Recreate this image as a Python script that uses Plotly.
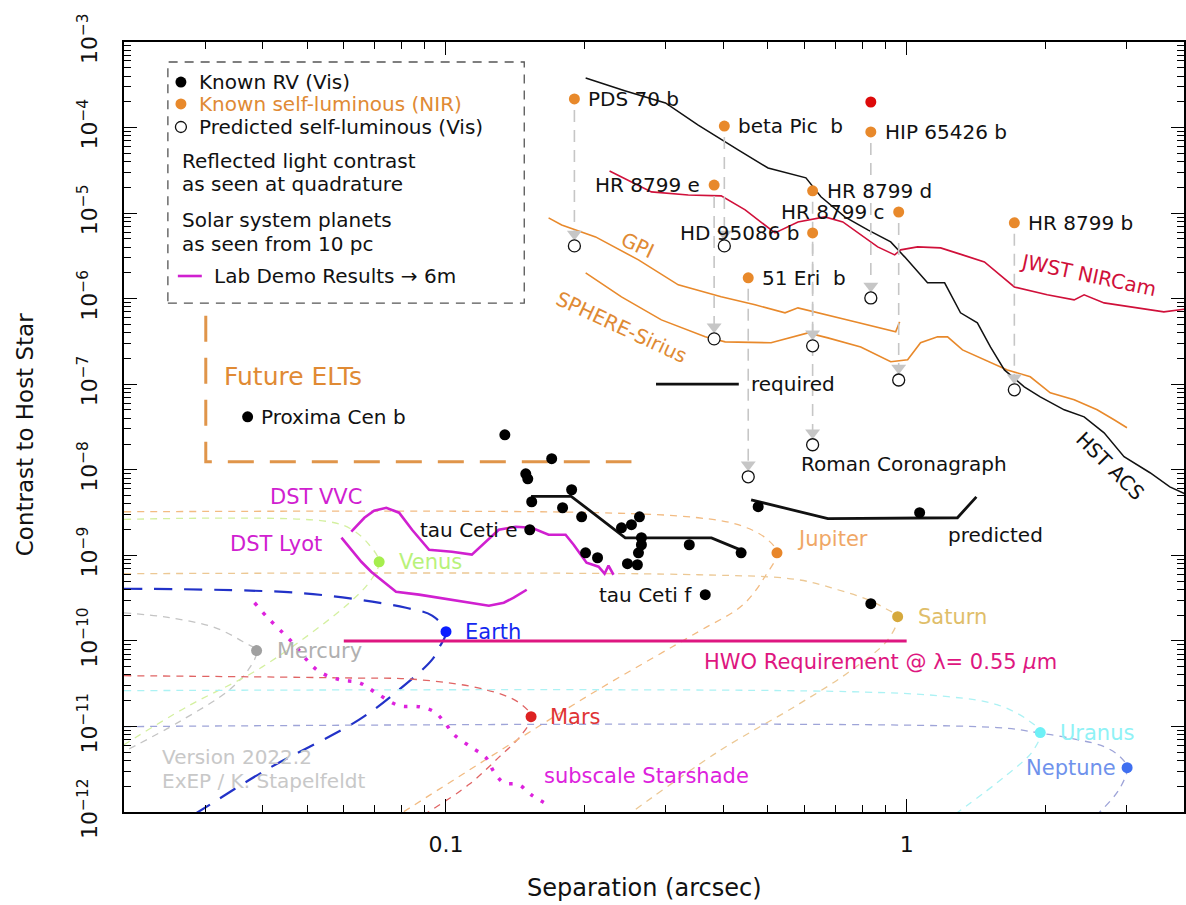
import math
import plotly.graph_objects as go

# ---------------- axis limits ----------------
SEP_RANGE = [0.02, 4.0]
CON_EXP_RANGE = [-12, -3]

# ---------------- Solar-system planets seen from 10 pc ----------------
planet_names = ["Mercury", "Venus", "Earth", "Mars", "Jupiter", "Saturn", "Uranus", "Neptune"]
planet_sep = [0.0388, 0.0716, 0.100, 0.153, 0.523, 0.956, 1.95, 3.01]
planet_contrast = [7.7e-11, 8.4e-10, 1.28e-10, 1.30e-11, 1.07e-9, 1.92e-10, 8.47e-12, 3.30e-12]

# orbital tracks: full phase (left) -> quadrature -> crescent
mercury_sep = [0.02, 0.0251, 0.0315, 0.0366, 0.0388, 0.0375, 0.0339, 0.0264, 0.02]
mercury_con = [2.13e-10, 1.87e-10, 1.43e-10, 9.5e-11, 7.7e-11, 4.86e-11, 2.69e-11, 1.14e-11, 5.08e-12]
venus_sep = [0.02, 0.0558, 0.0626, 0.0681, 0.0716, 0.0688, 0.0617, 0.0400, 0.0274, 0.02]
venus_con = [2.63e-9, 2.47e-9, 1.99e-9, 1.33e-9, 8.4e-10, 5.19e-10, 2.79e-10, 5.0e-11, 1.70e-11, 6.12e-12]
earth_sep = [0.02, 0.0473, 0.0692, 0.0819, 0.0933, 0.100, 0.0966, 0.0933, 0.0791, 0.0648, 0.0408, 0.0288, 0.0251]
earth_con = [4.07e-10, 3.66e-10, 2.87e-10, 2.44e-10, 1.97e-10, 1.28e-10, 8.34e-11, 6.03e-11, 2.69e-11,
             1.2e-11, 3.13e-12, 9.8e-13, 6.2e-13]
mars_sep = [0.02, 0.0578, 0.0874, 0.122, 0.144, 0.153, 0.146, 0.130, 0.1121, 0.0896]
mars_con = [3.92e-11, 3.7e-11, 3.52e-11, 2.69e-11, 1.90e-11, 1.30e-11, 8.02e-12, 4.32e-12, 2.09e-12, 9.3e-13]
jupiter_sep = [0.02, 0.214, 0.353, 0.4307, 0.4928, 0.523, 0.4953, 0.4416, 0.353, 0.214, 0.130, 0.0791]
jupiter_con = [3.23e-9, 3.15e-9, 2.75e-9, 2.28e-9, 1.61e-9, 1.07e-9, 5.93e-10, 2.65e-10, 1.28e-10,
               2.69e-11, 5.08e-12, 9.3e-13]
saturn_sep = [0.02, 0.353, 0.581, 0.7089, 0.8234, 0.9098, 0.956, 0.9098, 0.7455, 0.581, 0.390, 0.2489]
saturn_con = [6.10e-10, 5.93e-10, 5.19e-10, 3.96e-10, 3.03e-10, 2.31e-10, 1.92e-10, 1.03e-10, 4.25e-11,
              1.80e-11, 5.08e-12, 9.3e-13]
uranus_sep = [0.02, 0.7455, 1.23, 1.57, 1.828, 1.95, 1.874, 1.654, 1.27]
uranus_con = [2.62e-11, 2.55e-11, 2.23e-11, 1.80e-11, 1.20e-11, 8.47e-12, 5.08e-12, 2.74e-12, 9.3e-13]
neptune_sep = [0.02, 1.57, 1.921, 2.345, 2.683, 2.905, 3.01, 2.891, 2.59]
neptune_con = [9.95e-12, 9.7e-12, 8.47e-12, 7.02e-12, 5.81e-12, 4.44e-12, 3.30e-12, 1.83e-12, 9.3e-13]

# ---------------- known RV planets (visible) ----------------
rv_sep = [0.1342, 0.1696, 0.149, 0.1505, 0.1874, 0.1535, 0.1791, 0.1970, 0.2630, 0.2527, 0.2404,
          0.2656, 0.2656, 0.3374, 0.4372, 0.2617, 0.2009, 0.2133, 0.2477, 0.2603, 0.4761, 1.067, 0.836]
rv_con = [2.56e-8, 1.35e-8, 8.98e-9, 7.85e-9, 5.84e-9, 4.23e-9, 3.60e-9, 2.82e-9, 2.82e-9, 2.28e-9, 2.10e-9,
          1.61e-9, 1.33e-9, 1.33e-9, 1.07e-9, 1.07e-9, 1.07e-9, 9.37e-10, 7.98e-10, 7.76e-10, 3.70e-9,
          3.15e-9, 2.72e-10]
rv_named = ["Proxima Cen b", "tau Ceti e", "tau Ceti f"]
rv_named_sep = [0.0371, 0.1520, 0.3654]
rv_named_con = [4.16e-8, 1.99e-9, 3.47e-10]

# ---------------- self-luminous planets: NIR measured, visible predicted ----------------
sl_names = ["PDS 70 b", "beta Pic&nbsp;&nbsp;b", "HIP 65426 b", "HR 8799 e", "HR 8799 d",
            "HD 95086 b", "HR 8799 c", "51 Eri&nbsp;&nbsp;b", "HR 8799 b"]
sl_sep = [0.190, 0.402, 0.836, 0.382, 0.625, 0.625, 0.961, 0.453, 1.713]
sl_nir = [2.16e-4, 1.04e-4, 8.9e-5, 2.13e-5, 1.82e-5, 5.87e-6, 1.03e-5, 1.75e-6, 7.69e-6]
sl_vis = [4.14e-6, 4.14e-6, 1.02e-6, 3.39e-7, 2.81e-7, 1.96e-8, 1.12e-7, 8.28e-9, 8.6e-8]
sl_label_side = ["right", "right", "right", "left", "right", "left", "left", "right", "right"]
hip_alt_sep = [0.836]
hip_alt_con = [1.99e-4]

# ---------------- instrument contrast curves ----------------
hst_sep = [0.201, 0.2453, 0.2995, 0.3528, 0.4307, 0.5002, 0.6044, 0.6515, 0.734, 0.8234, 0.9235, 0.990,
           1.110, 1.209, 1.309, 1.424, 1.520, 1.630, 1.800, 1.950, 2.198, 2.428, 2.683, 2.964, 3.375,
           3.727, 4.06]
hst_con = [3.79e-4, 2.68e-4, 1.94e-4, 1.07e-4, 5.47e-5, 3.37e-5, 2.58e-5, 1.55e-5, 9.03e-6, 6.37e-6,
           4.61e-6, 3.08e-6, 1.53e-6, 1.53e-6, 6.83e-7, 5.21e-7, 2.73e-7, 1.47e-7, 9.33e-8, 7.13e-8,
           5.02e-8, 4.16e-8, 2.70e-8, 1.42e-8, 9.23e-9, 6.32e-9, 5.10e-9]
jwst_sep = [0.2265, 0.2792, 0.3357, 0.3957, 0.4461, 0.5179, 0.5808, 0.6645, 0.7268, 0.7833, 0.8653,
            0.9419, 0.9705, 1.056, 1.185, 1.322, 1.475, 1.713, 2.019, 2.310, 2.428, 2.683, 3.053,
            3.617, 4.06]
jwst_con = [3.11e-5, 1.77e-5, 1.63e-5, 1.59e-5, 1.09e-5, 5.87e-6, 7.89e-6, 9.03e-6, 7.89e-6, 5.87e-6,
            4.03e-6, 3.25e-6, 3.72e-6, 4.03e-6, 3.92e-6, 3.25e-6, 2.69e-6, 1.37e-6, 1.11e-6, 9.68e-7,
            1.11e-6, 8.93e-7, 8.02e-7, 7.01e-7, 7.60e-7]
gpi_sep = [0.167, 0.1783, 0.2112, 0.2617, 0.3193, 0.3957, 0.4688, 0.5444, 0.5808, 0.6326, 0.7717,
           0.9467, 0.9656]
gpi_con = [8.79e-6, 7.28e-6, 5.27e-6, 2.84e-6, 1.45e-6, 1.05e-6, 8.47e-7, 6.83e-7, 7.81e-7, 7.01e-7,
           5.36e-7, 4.09e-7, 5.36e-7]
sphere_sep = [0.201, 0.2404, 0.2935, 0.3654, 0.4037, 0.5077, 0.6105, 0.6745, 0.7950, 0.9235, 1.005,
              1.072, 1.167, 1.227, 1.322, 1.475, 1.654, 1.855, 2.050, 2.310, 2.591, 2.820, 3.008]
sphere_con = [2.00e-6, 1.05e-6, 5.65e-7, 3.58e-7, 3.13e-7, 3.05e-7, 3.98e-7, 3.48e-7, 2.73e-7, 1.83e-7,
              1.93e-7, 3.05e-7, 3.58e-7, 3.58e-7, 2.52e-7, 1.93e-7, 1.47e-7, 1.22e-7, 7.94e-8, 6.58e-8,
              5.02e-8, 3.84e-8, 3.10e-8]

# Roman Coronagraph: required and predicted performance
roman_req_sep = [0.153, 0.187, 0.245, 0.377, 0.437]
roman_req_con = [4.9e-9, 4.9e-9, 1.6e-9, 1.6e-9, 1.15e-9]
roman_pred_sep = [0.4596, 0.6745, 1.289, 1.417]
roman_pred_con = [4.46e-9, 2.68e-9, 2.75e-9, 4.83e-9]

# lab demonstrations scaled to a 6 m telescope
vvc_sep = [0.0623, 0.0665, 0.0698, 0.0742, 0.0791, 0.0844, 0.0919, 0.1030, 0.1138, 0.1221, 0.1302,
           0.1417, 0.1535, 0.167, 0.1818, 0.1893, 0.1960, 0.2019, 0.2144, 0.2209, 0.2253, 0.2310]
vvc_con = [1.89e-9, 2.75e-9, 3.32e-9, 3.60e-9, 3.15e-9, 1.99e-9, 1.16e-9, 1.10e-9, 1.02e-9, 1.44e-9,
           1.99e-9, 2.16e-9, 2.10e-9, 1.74e-9, 1.74e-9, 1.33e-9, 1.02e-9, 8.2e-10, 7.36e-10, 6.10e-10,
           7.57e-10, 5.93e-10]
lyot_sep = [0.0593, 0.0623, 0.0655, 0.0688, 0.0723, 0.0779, 0.0874, 0.1030, 0.1149, 0.1239, 0.1335,
            0.1403, 0.1497]
lyot_con = [1.61e-9, 1.16e-9, 8.41e-10, 6.43e-10, 5.19e-10, 3.76e-10, 3.47e-10, 3.03e-10, 2.72e-10,
            2.58e-10, 2.79e-10, 3.20e-10, 3.96e-10]
starshade_sep = [0.0384, 0.0410, 0.0440, 0.0469, 0.0498, 0.0531, 0.0587, 0.0648, 0.0709, 0.0791, 0.0874,
                 0.0942, 0.0990, 0.1041, 0.1138, 0.1221, 0.1270, 0.1335, 0.1439, 0.1528, 0.1630]
starshade_con = [2.79e-10, 1.87e-10, 1.28e-10, 9.03e-11, 6.03e-11, 4.37e-11, 3.52e-11, 3.25e-11, 2.42e-11,
                 1.75e-11, 1.70e-11, 1.49e-11, 1.14e-11, 8.02e-12, 5.65e-12, 4.32e-12, 2.96e-12, 2.20e-12,
                 2.09e-12, 1.60e-12, 1.29e-12]

# HWO requirement and future ELT reach
hwo_sep = [0.06, 1.0]
hwo_con = [1e-10, 1e-10]
elt_sep = [0.0301, 0.0301, 0.2527]
elt_con = [6.3e-7, 1.24e-8, 1.24e-8]

# ---------------- tick labels ----------------
x_tick_vals = [0.1, 1]
x_tick_text = ["0.1", "1"]
y_tick_exps = list(range(-12, -2))

# ---------------- styles ----------------
FONT = "DejaVu Sans"
ORANGE = "#e8892b"
ORANGE_TXT = "#e08a34"
MAGENTA = "#d020d0"
HWO_PINK = "#de1680"
CONNECT_GRAY = "#c6c6c6"
planet_dot_colors = ["#a0a0a0", "#a6ee4e", "#0a1eff", "#dd2222", "#e8862a", "#d6a93c", "#6ef0f6", "#3f6ff0"]
planet_text_colors = ["#b0b0b0", "#b8f27a", "#1428f0", "#e03434", "#f0a766", "#dfbe6a", "#8ff2f6", "#6f92ec"]
planet_track_colors = ["#c4c4c4", "#d4f0a0", "#2232c8", "#e06464", "#f2bb82", "#ecc894", "#acf2f4", "#9ea4d8"]
planet_track_width = [1.3, 1.3, 2.2, 1.3, 1.3, 1.3, 1.3, 1.3]
planet_track_dash = ["7px,6px", "7px,6px", "18px,12px", "7px,6px", "7px,6px", "7px,6px", "7px,6px", "7px,6px"]
planet_label_xshift = [18, 18, 17, 17, 18, 18, 18, -9]
planet_label_yshift = [0, 0, 0, 0, 14, 0, 0, 0]

tracks = [(mercury_sep, mercury_con), (venus_sep, venus_con), (earth_sep, earth_con), (mars_sep, mars_con),
          (jupiter_sep, jupiter_con), (saturn_sep, saturn_con), (uranus_sep, uranus_con),
          (neptune_sep, neptune_con)]

fig = go.Figure()


def add_line(xs, ys, color, width, dash="solid", shape="linear"):
    fig.add_trace(go.Scatter(x=xs, y=ys, mode="lines", hoverinfo="skip",
                             line=dict(color=color, width=width, dash=dash, shape=shape)))


# planet phase tracks
for i, (ts, tc) in enumerate(tracks):
    add_line(ts, tc, planet_track_colors[i], planet_track_width[i], planet_track_dash[i], "spline")

# HWO requirement
add_line(hwo_sep, hwo_con, HWO_PINK, 3)

# future ELTs
add_line(elt_sep, elt_con, "#e0954a", 3, "26px,16px")

# lab demos
add_line(vvc_sep, vvc_con, MAGENTA, 2.6)
add_line(lyot_sep, lyot_con, MAGENTA, 2.6)
add_line(starshade_sep, starshade_con, "#dd22dd", 3.5, "3.5px,9px", "spline")

# instrument curves
add_line(gpi_sep, gpi_con, ORANGE, 1.6)
add_line(sphere_sep, sphere_con, ORANGE, 1.6)
add_line(jwst_sep, jwst_con, "#d0103a", 1.6)
add_line(hst_sep, hst_con, "#111111", 1.5)
add_line(roman_req_sep, roman_req_con, "#111111", 2.8)
add_line(roman_pred_sep, roman_pred_con, "#111111", 2.8)

# connectors from NIR detection down to predicted visible contrast
gap_below_dot = 10 ** (11 / 85.6)
arrow_above_circle = 10 ** (12 / 85.6)
cx, cy = [], []
for s, n, v in zip(sl_sep, sl_nir, sl_vis):
    cx += [s, s, None]
    cy += [n / gap_below_dot, v * arrow_above_circle, None]
add_line(cx, cy, CONNECT_GRAY, 1.6, "12px,8px")
fig.add_trace(go.Scatter(x=sl_sep, y=[v * arrow_above_circle for v in sl_vis], mode="markers",
                         hoverinfo="skip",
                         marker=dict(symbol="triangle-down", size=13, color=CONNECT_GRAY)))

# markers
fig.add_trace(go.Scatter(x=rv_sep + rv_named_sep, y=rv_con + rv_named_con, mode="markers", hoverinfo="skip",
                         marker=dict(size=11, color="black")))
fig.add_trace(go.Scatter(x=sl_sep, y=sl_vis, mode="markers", hoverinfo="skip",
                         marker=dict(size=12, color="white", line=dict(color="#111111", width=1.3))))
fig.add_trace(go.Scatter(x=sl_sep, y=sl_nir, mode="markers", hoverinfo="skip",
                         marker=dict(size=11, color=ORANGE)))
fig.add_trace(go.Scatter(x=hip_alt_sep, y=hip_alt_con, mode="markers", hoverinfo="skip",
                         marker=dict(size=11, color="#dd0a0a")))
fig.add_trace(go.Scatter(x=planet_sep, y=planet_contrast, mode="markers", hoverinfo="skip",
                         marker=dict(size=11, color=planet_dot_colors)))

annotations = []


def label_at(sep, con, text, side, color, size=21, xshift=13, yshift=0):
    annotations.append(dict(x=math.log10(sep), y=math.log10(con), xref="x", yref="y", text=text,
                            showarrow=False, xanchor="left" if side == "right" else "right",
                            yanchor="middle", xshift=xshift if side == "right" else -xshift,
                            yshift=yshift, font=dict(size=size, color=color, family=FONT)))


for name, s, n, side in zip(sl_names, sl_sep, sl_nir, sl_label_side):
    label_at(s, n, name, side, "#111111", 20, 12)
for name, s, c, side in zip(rv_named, rv_named_sep, rv_named_con, ["right", "left", "left"]):
    label_at(s, c, name, side, "#111111", 20, 11)
for i, name in enumerate(planet_names):
    side = "right" if planet_label_xshift[i] > 0 else "left"
    label_at(planet_sep[i], planet_contrast[i], name, side, planet_text_colors[i], 21,
             abs(planet_label_xshift[i]), planet_label_yshift[i])


def paper_text(x, y, text, color="#111111", size=21, anchor="center", angle=0):
    annotations.append(dict(x=x, y=y, xref="paper", yref="paper", text=text, showarrow=False,
                            xanchor=anchor, yanchor="middle", textangle=angle,
                            font=dict(size=size, color=color, family=FONT)))


paper_text(0.1808, 0.4091, "DST VVC", MAGENTA)
paper_text(0.1431, 0.3481, "DST Lyot", MAGENTA)
paper_text(0.0923, 0.5662, "Future ELTs", ORANGE_TXT, 25, "left")
paper_text(0.5895, 0.5558, "required", "#111111", 20, "left")
paper_text(0.7363, 0.4519, "Roman Coronagraph", "#111111", 20)
paper_text(0.8220, 0.3597, "predicted", "#111111", 20)
paper_text(0.4840, 0.7364, "GPI", ORANGE_TXT, 20, angle=25)
paper_text(0.4689, 0.6299, "SPHERE-Sirius", ORANGE_TXT, 20, angle=25)
paper_text(0.9096, 0.6974, "JWST NIRCam", "#d0103a", 20, angle=12)
paper_text(0.9303, 0.4494, "HST ACS", "#111111", 20, angle=45)
paper_text(0.5452, 0.1948, "HWO Requirement @ λ= 0.55 <i>μ</i>m", HWO_PINK, 21, "left")
paper_text(0.3945, 0.0468, "subscale Starshade", "#dd22dd", 21, "left")
paper_text(0.0339, 0.0714, "Version 2022.2", "#c8c8c8", 20, "left")
paper_text(0.0339, 0.0403, "ExEP / K. Stapelfeldt", "#c8c8c8", 20, "left")

# legend block
paper_text(0.0687, 0.9480, "Known RV (Vis)", "#111111", 20, "left")
paper_text(0.0687, 0.9195, "Known self-luminous (NIR)", ORANGE_TXT, 20, "left")
paper_text(0.0687, 0.8896, "Predicted self-luminous (Vis)", "#111111", 20, "left")
paper_text(0.0527, 0.8455, "Reflected light contrast", "#111111", 20, "left")
paper_text(0.0527, 0.8156, "as seen at quadrature", "#111111", 20, "left")
paper_text(0.0527, 0.7688, "Solar system planets", "#111111", 20, "left")
paper_text(0.0527, 0.7377, "as seen from 10 pc", "#111111", 20, "left")
paper_text(0.0829, 0.6961, "Lab Demo Results → 6m", "#111111", 20, "left")

# axis titles
paper_text(0.4906, -0.0987, "Separation (arcsec)", "#111111", 24)
paper_text(-0.0932, 0.4896, "Contrast to Host Star", "#111111", 23, angle=-90)

rx, ry = 5.5 / 1062, 5.5 / 770
shapes = [
    dict(type="rect", xref="paper", yref="paper", x0=0.0414, x1=0.3776, y0=0.661, y1=0.974,
         line=dict(color="#555555", width=1.3, dash="9px,7px")),
    dict(type="circle", xref="paper", yref="paper", x0=0.0537 - rx, x1=0.0537 + rx,
         y0=0.948 - ry, y1=0.948 + ry, fillcolor="black", line=dict(width=0)),
    dict(type="circle", xref="paper", yref="paper", x0=0.0537 - rx, x1=0.0537 + rx,
         y0=0.9195 - ry, y1=0.9195 + ry, fillcolor=ORANGE, line=dict(width=0)),
    dict(type="circle", xref="paper", yref="paper", x0=0.0537 - rx, x1=0.0537 + rx,
         y0=0.8896 - ry, y1=0.8896 + ry, fillcolor="white", line=dict(color="#111111", width=1.3)),
    dict(type="line", xref="paper", yref="paper", x0=0.0508, x1=0.0734, y0=0.6961, y1=0.6961,
         line=dict(color=MAGENTA, width=2.6)),
    dict(type="line", xref="paper", yref="paper", x0=0.5019, x1=0.5800, y0=0.5558, y1=0.5558,
         line=dict(color="#111111", width=2.8)),
]

x_minor = [k * 10 ** e for e in (-2, -1, 0) for k in range(2, 10) if 0.02 < k * 10 ** e < 4.0]
y_minor = [k * 10.0 ** e for e in range(-12, -3) for k in range(2, 10)]

fig.update_layout(
    width=1186, height=905,
    margin=dict(l=124, r=0, t=42, b=93),
    plot_bgcolor="white", paper_bgcolor="white",
    showlegend=False,
    font=dict(family=FONT, color="#111111"),
    annotations=annotations,
    shapes=shapes,
    xaxis=dict(type="log", range=[math.log10(SEP_RANGE[0]), math.log10(SEP_RANGE[1])],
               tickvals=x_tick_vals, ticktext=x_tick_text, ticks="inside", ticklen=13, tickwidth=1.4,
               tickcolor="black", showline=True, linewidth=2, linecolor="black", mirror="allticks",
               showgrid=False, zeroline=False, tickfont=dict(size=22, family=FONT),
               ticklabelstandoff=12,
               minor=dict(tickvals=x_minor, ticks="inside", ticklen=7, tickwidth=1.2,
                          tickcolor="black", showgrid=False)),
    yaxis=dict(type="log", range=CON_EXP_RANGE,
               tickvals=[10.0 ** e for e in y_tick_exps],
               ticktext=[f"10<sup>−{-e}</sup>" for e in y_tick_exps],
               tickangle=-90, ticks="inside", ticklen=13, tickwidth=1.4, tickcolor="black",
               showline=True, linewidth=2, linecolor="black", mirror="allticks",
               showgrid=False, zeroline=False, tickfont=dict(size=22, family=FONT),
               ticklabelstandoff=16,
               minor=dict(tickvals=y_minor, ticks="inside", ticklen=7, tickwidth=1.2,
                          tickcolor="black", showgrid=False)),
)

fig.write_html("out.html")
